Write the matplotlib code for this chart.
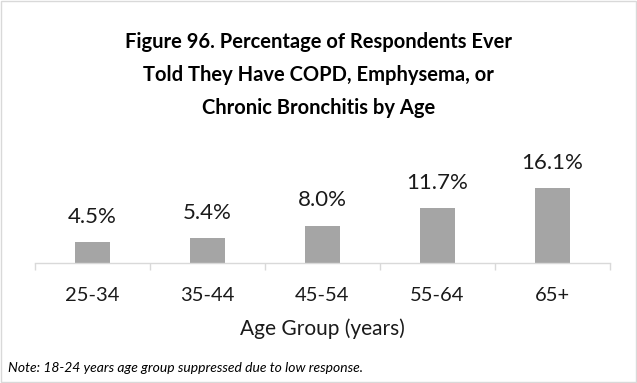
import matplotlib.pyplot as plt
from matplotlib.patches import Rectangle

plt.rcParams['font.family'] = ['Lato', 'DejaVu Sans']

# Data
age_groups = ['25-34', '35-44', '45-54', '55-64', '65+']
percent = [4.5, 5.4, 8.0, 11.7, 16.1]

fig = plt.figure(figsize=(6.37, 3.83), dpi=100)
ax = fig.add_axes([35 / 637, 1 - 263 / 383, 575 / 637, 113 / 383])

x = range(len(age_groups))
ax.bar(x, percent, width=0.31, color='#a5a5a5', zorder=2)

# value labels above bars
for xi, v in zip(x, percent):
    ax.annotate(f"{v:.1f}%", (xi, v), xytext=(0, 11), textcoords='offset points',
                ha='center', va='bottom', fontsize=16, color='#1a1a1a')

ax.set_xlim(-0.5, len(age_groups) - 0.5)
ax.set_ylim(0, 24.2)
ax.set_yticks([])
ax.set_xticks([i - 0.5 for i in range(len(age_groups) + 1)], minor=False)
ax.set_xticklabels([])
ax.set_xticks(list(x), minor=True)
ax.set_xticklabels(age_groups, minor=True, fontsize=14.5, color='#1a1a1a')
ax.tick_params(axis='x', which='major', length=5, color='#d9d9d9', width=1)
ax.tick_params(axis='x', which='minor', length=0, pad=17)
for s in ['top', 'left', 'right']:
    ax.spines[s].set_visible(False)
ax.spines['bottom'].set_color('#d9d9d9')
ax.spines['bottom'].set_linewidth(1)
ax.set_xlabel('Age Group (years)', fontsize=15, color='#1a1a1a', labelpad=11)

fig.text(0.5, 1 - 75 / 383,
         'Figure 96. Percentage of Respondents Ever\nTold They Have COPD, Emphysema, or\nChronic Bronchitis by Age',
         ha='center', va='center', fontsize=14.5, fontweight='bold', linespacing=1.8, color='black')

fig.text(8 / 637, 1 - 368 / 383, 'Note: 18-24 years age group suppressed due to low response.',
         ha='left', va='center', fontsize=10, style='italic', color='black')

fig.patches.append(Rectangle((0.002, 0.002), 0.996, 0.996, transform=fig.transFigure,
                             fill=False, edgecolor='#d9d9d9', linewidth=1))

fig.savefig('out.png', dpi=100)
